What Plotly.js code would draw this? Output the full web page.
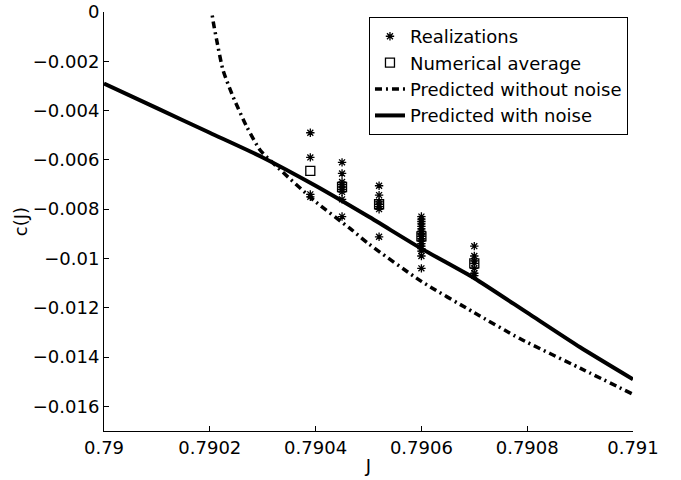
<!DOCTYPE html>
<html>
<head>
<meta charset="utf-8">
<script src="https://cdn.plot.ly/plotly-3.0.1.min.js"></script>
<style>html,body{margin:0;padding:0;background:#fff}#chart{width:681px;height:480px}</style>
</head>
<body>
<div id="chart"></div>
<script>
// Realizations (stars)
var realJ = [
  0.79039, 0.79039, 0.79039, 0.79039,
  0.79045, 0.79045, 0.79045, 0.79045, 0.79045, 0.79045, 0.79045, 0.79045, 0.79045,
  0.79052, 0.79052, 0.79052, 0.79052, 0.79052, 0.79052, 0.79052,
  0.7906, 0.7906, 0.7906, 0.7906, 0.7906, 0.7906, 0.7906, 0.7906, 0.7906, 0.7906,
  0.7906, 0.7906, 0.7906, 0.7906, 0.7906, 0.7906, 0.7906, 0.7906, 0.7906, 0.7906,
  0.7907, 0.7907, 0.7907, 0.7907, 0.7907, 0.7907, 0.7907
];
var realC = [
  -0.0049, -0.0059, -0.0074, -0.0075,
  -0.0061, -0.00655, -0.0069, -0.0070, -0.0071, -0.0072, -0.0073, -0.0076, -0.0083,
  -0.00705, -0.00743, -0.0077, -0.0078, -0.0079, -0.0080, -0.00912,
  -0.0083, -0.0084, -0.0085, -0.0086, -0.0087, -0.0088, -0.0089, -0.0089, -0.0090, -0.0090,
  -0.0091, -0.0091, -0.0092, -0.0093, -0.0094, -0.0095, -0.0096, -0.0097, -0.0099, -0.0104,
  -0.0095, -0.0099, -0.0101, -0.0102, -0.0104, -0.0106, -0.0107
];
// Numerical average (squares)
var avgJ = [0.79039, 0.79045, 0.79052, 0.7906, 0.7907];
var avgC = [-0.00645, -0.0071, -0.0078, -0.0091, -0.0102];
// Predicted without noise (dash-dot)
var noNoiseJ = [0.790202, 0.790204, 0.790207, 0.790213, 0.790225, 0.790244, 0.79027, 0.790295, 0.79032, 0.7904, 0.790465, 0.7905, 0.7906, 0.7907, 0.790786, 0.7909, 0.791];
var noNoiseC = [0.0003, -0.00005, -0.00046, -0.00114, -0.00236, -0.00344, -0.00466, -0.0056, -0.00614, -0.0077, -0.00878, -0.0094, -0.01093, -0.0122, -0.01325, -0.01445, -0.01551];
// Predicted with noise (solid)
var noiseJ = [0.79, 0.7901, 0.7902, 0.7903, 0.7904, 0.7905, 0.7906, 0.7907, 0.7908, 0.7909, 0.791];
var noiseC = [-0.0029, -0.0039, -0.0049, -0.0059, -0.00705, -0.0083, -0.0096, -0.0108, -0.0122, -0.0136, -0.0149];
// Ticks
var xTickVals = [0.79, 0.7902, 0.7904, 0.7906, 0.7908, 0.791];
var xTickText = ["0.79", "0.7902", "0.7904", "0.7906", "0.7908", "0.791"];
var yTickVals = [0, -0.002, -0.004, -0.006, -0.008, -0.01, -0.012, -0.014, -0.016];
var yTickText = ["0", "\u22120.002", "\u22120.004", "\u22120.006", "\u22120.008", "\u22120.01", "\u22120.012", "\u22120.014", "\u22120.016"];

var traces = [
  {x: realJ, y: realC, mode: 'markers', type: 'scatter', name: 'Realizations',
   marker: {symbol: 'asterisk-open', size: 7, color: '#000', line: {color: '#000', width: 1.3}}},
  {x: avgJ, y: avgC, mode: 'markers', type: 'scatter', name: 'Numerical average',
   marker: {symbol: 'square-open', size: 9, color: '#000', line: {color: '#000', width: 1.3}}},
  {x: noNoiseJ, y: noNoiseC, mode: 'lines', type: 'scatter', name: 'Predicted without noise',
   line: {color: '#000', width: 3.5, dash: '7px,4px,2px,4px', shape: 'spline', smoothing: 0.6}},
  {x: noiseJ, y: noiseC, mode: 'lines', type: 'scatter', name: 'Predicted with noise',
   line: {color: '#000', width: 4, shape: 'spline', smoothing: 0.6}}
];

var fnt = {family: 'DejaVu Sans, sans-serif', size: 18, color: '#000'};
var legFnt = {family: 'DejaVu Sans, sans-serif', size: 18, color: '#000'};
var layout = {
  width: 681, height: 480,
  margin: {l: 104, r: 48, t: 12, b: 49, pad: 0},
  paper_bgcolor: '#fff', plot_bgcolor: '#fff',
  font: fnt,
  showlegend: true,
  legend: {x: 0.9905, y: 0.988, xanchor: 'right', yanchor: 'top', bgcolor: '#fff',
           bordercolor: '#000', borderwidth: 1, font: legFnt, tracegroupgap: 0},
  xaxis: {range: [0.79, 0.791], tickvals: xTickVals, ticktext: xTickText,
          ticks: 'inside', ticklen: 5, tickcolor: '#000', showgrid: false, zeroline: false,
          showline: true, linecolor: '#000', linewidth: 1, mirror: false,
          title: {text: 'J', font: fnt, standoff: 2}, tickfont: fnt},
  yaxis: {range: [-0.017, 0], tickvals: yTickVals, ticktext: yTickText,
          ticks: 'inside', ticklen: 5, tickcolor: '#000', showgrid: false, zeroline: false,
          showline: true, linecolor: '#000', linewidth: 1, mirror: false,
          title: {text: 'c(J)', font: fnt, standoff: 0}, tickfont: fnt}
};
Plotly.newPlot('chart', traces, layout, {displayModeBar: false, staticPlot: true});
</script>
</body>
</html>
